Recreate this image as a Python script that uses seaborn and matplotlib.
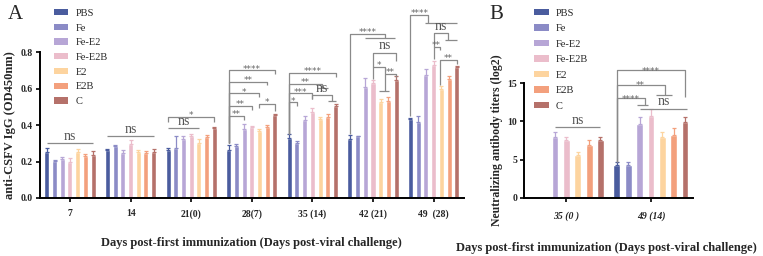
import matplotlib
matplotlib.use("Agg")
import matplotlib.pyplot as plt
from matplotlib.patches import Patch
import numpy as np
import pandas as pd
import seaborn as sns

# ---- data ----
groups = ["PBS", "Fe", "Fe-E2", "Fe-E2B", "E2", "E2B", "C"]
colors = ["#4A5C9E", "#8B8BC6", "#B7A6D6", "#EBBDCB", "#FDD49F", "#F3A07D", "#B5716A"]

days_a = ["7", "14", "21(0)", "28(7)", "35 (14)", "42 (21)", "49  (28)"]
# rows = groups, columns = days
od_mean = [
    [0.250, 0.265, 0.265, 0.263, 0.330, 0.323, 0.433],
    [0.202, 0.285, 0.272, 0.285, 0.303, 0.338, 0.418],
    [0.215, 0.245, 0.325, 0.378, 0.427, 0.606, 0.674],
    [0.200, 0.295, 0.340, 0.389, 0.471, 0.632, 0.729],
    [0.250, 0.250, 0.300, 0.367, 0.433, 0.524, 0.599],
    [0.230, 0.245, 0.335, 0.389, 0.442, 0.532, 0.650],
    [0.235, 0.252, 0.385, 0.455, 0.506, 0.647, 0.716],
]
od_err = [
    [0.025, 0.006, 0.010, 0.030, 0.020, 0.020, 0.008],
    [0.006, 0.006, 0.070, 0.012, 0.010, 0.004, 0.030],
    [0.012, 0.020, 0.015, 0.030, 0.020, 0.050, 0.035],
    [0.020, 0.025, 0.010, 0.008, 0.025, 0.015, 0.020],
    [0.020, 0.015, 0.025, 0.010, 0.012, 0.020, 0.015],
    [0.012, 0.015, 0.010, 0.012, 0.020, 0.020, 0.020],
    [0.020, 0.015, 0.004, 0.008, 0.008, 0.020, 0.010],
]

days_b = ["35 (0 )", "49 (14)"]
nab_mean = [
    [np.nan, 4.35],
    [np.nan, 4.35],
    [7.95, 9.65],
    [7.60, 10.65],
    [5.65, 7.95],
    [6.95, 8.25],
    [7.60, 9.95],
]
nab_err = [
    [np.nan, 0.3],
    [np.nan, 0.3],
    [0.6, 0.9],
    [0.35, 0.9],
    [0.4, 0.6],
    [0.6, 0.9],
    [0.4, 0.6],
]

# significance annotations: (day idx, hue start, hue end, y, label, left leg bottom, right leg bottom, sub span)
sig_a = [
    (0, 0, 6, 0.300, "ns", None, None, None),
    (1, 0, 6, 0.340, "ns", None, None, None),
    (2, 0, 4, 0.383, "ns", None, None, None),
    (2, 0, 6, 0.445, "*", 0.418, 0.418, None),
    (3, 0, 2, 0.449, "**", 0.30, 0.425, None),
    (3, 0, 3, 0.504, "**", 0.30, 0.485, None),
    (3, 0, 4, 0.574, "*", 0.30, 0.555, None),
    (3, 0, 5, 0.637, "**", 0.30, 0.617, None),
    (3, 0, 6, 0.700, "****", 0.30, 0.680, None),
    (3, 4, 6, 0.515, "*", 0.495, 0.475, None),
    (4, 0, 1, 0.525, "*", 0.35, 0.505, None),
    (4, 0, 3, 0.574, "***", 0.35, 0.545, None),
    (4, 3, 5.5, 0.565, "ns", 0.545, 0.533, (5, 6)),
    (4, 0, 4.2, 0.625, "**", 0.35, 0.605, (3.6, 5)),
    (4, 0, 6, 0.685, "****", 0.35, 0.665, None),
    (5, 0, 4.6, 0.899, "****", 0.35, 0.875, (2, 5.9)),
    (5, 3, 6, 0.796, "ns", 0.72, 0.752, None),
    (5, 3, 4.5, 0.720, "*", 0.655, 0.588, (3.8, 5.1)),
    (5, 4.5, 6, 0.680, "**", 0.68, 0.665, None),
    (6, 0, 2.3, 1.003, "****", 0.45, 0.957, (1.9, 6)),
    (6, 3, 4.9, 0.902, "ns", 0.829, 0.866, (4.5, 6)),
    (6, 3, 3.8, 0.829, "**", 0.76, 0.81, None),
    (6, 3.8, 6, 0.756, "**", 0.62, 0.735, None),
]
sig_b = [
    (0, 2, 6, 9.2, "ns", None, None, None),
    (1, 0, 6, 16.7, "****", 4.7, 13.2, None),
    (1, 0, 4.2, 14.8, "**", 4.7, 13.5, (3.45, 4.9)),
    (1, 0, 2.5, 13.0, "****", 4.7, 12.2, (1.8, 2.7)),
    (1, 2, 6.2, 11.6, "ns", None, None, None),
]


def long_form(means, days):
    rows = []
    for g, vals in zip(groups, means):
        for d, v in zip(days, vals):
            if not np.isnan(v):
                rows.append({"day": d, "group": g, "value": v})
    return pd.DataFrame(rows)


def bar_x(cat, h, width):
    n = len(groups)
    return cat + (h - (n - 1) / 2) * width / n


def draw_panel(ax, means, errs, days, width, gap):
    df = long_form(means, days)
    sns.barplot(data=df, x="day", y="value", hue="group", order=days, hue_order=groups,
                palette=colors, width=width, gap=gap, saturation=1, errorbar=None,
                legend=False, ax=ax)
    for h, (mrow, erow) in enumerate(zip(means, errs)):
        for c, (m, e) in enumerate(zip(mrow, erow)):
            if np.isnan(m):
                continue
            ax.errorbar(bar_x(c, h, width), m, yerr=[[0], [e]], color=colors[h],
                        capsize=1.6, elinewidth=0.9, capthick=0.9, clip_on=False)


def draw_sigs(ax, sigs, width, leg, ns_size, star_size):
    kw = dict(color="#8a8a8a", lw=0.9, clip_on=False, solid_capstyle="butt")
    for c, h1, h2, y, label, yl1, yl2, sub in sigs:
        x1, x2 = bar_x(c, h1, width), bar_x(c, h2, width)
        if yl1 is None:
            ax.plot([x1, x2], [y, y], **kw)
        else:
            ax.plot([x1, x1, x2, x2], [yl1, y, y, yl2], **kw)
        if sub is not None:
            ax.plot([bar_x(c, sub[0], width), bar_x(c, sub[1], width)], [yl2, yl2], **kw)
        xm = (x1 + x2) / 2
        if label == "ns":
            ax.text(xm, y + leg * 0.1, label, ha="center", va="bottom", fontsize=ns_size,
                    color="#555555", clip_on=False)
        else:
            ax.text(xm, y - leg * 0.9, label, ha="center", va="bottom", fontsize=star_size,
                    color="#666666", family="DejaVu Sans", clip_on=False)


sns.set_theme(style="ticks")
plt.rcParams["font.family"] = ["Liberation Serif", "DejaVu Serif"]

fig = plt.figure(figsize=(7.63, 2.56), dpi=100)
ax_a = fig.add_axes([0.052, 0.2266, 0.556, 0.570])
ax_b = fig.add_axes([0.687, 0.2266, 0.2215, 0.449])

wa, wb = 0.89, 0.94
draw_panel(ax_a, od_mean, od_err, days_a, wa, 0.35)
draw_panel(ax_b, nab_mean, nab_err, days_b, wb, 0.4)
draw_sigs(ax_a, sig_a, wa, 0.02, 10, 6.5)
draw_sigs(ax_b, sig_b, wb, 0.8, 10, 6.5)

ax_a.set_xlim(-0.5, 6.5)
ax_a.set_ylim(0, 0.8)
ax_a.set_yticks([0, 0.2, 0.4, 0.6, 0.8])
ax_a.set_yticklabels(["0.0", "0.2", "0.4", "0.6", "0.8"])
ax_b.set_xlim(-0.5, 1.5)
ax_b.set_ylim(0, 15)
ax_b.set_yticks([0, 5, 10, 15])

for ax in (ax_a, ax_b):
    sns.despine(ax=ax)
    for s in ("left", "bottom"):
        ax.spines[s].set_linewidth(1.4)
        ax.spines[s].set_color("black")
    ax.tick_params(axis="both", length=3, width=1.2, labelsize=7, pad=2, color="black")
    for t in ax.get_yticklabels():
        t.set_fontweight("bold")
    ax.set_xlabel("")

for t in ax_a.get_xticklabels():
    t.set_fontweight("bold")
ax_a.tick_params(axis="x", pad=5)
for t in ax_b.get_xticklabels():
    t.set_fontweight("bold")
    t.set_fontstyle("italic")
ax_b.tick_params(axis="x", pad=7)

ax_a.set_ylabel("anti-CSFV IgG (OD450nm)", fontsize=9, fontweight="bold", labelpad=3)
ax_b.set_ylabel("Neutralizing antibody titers (log2)", fontsize=8.5, fontweight="bold", labelpad=3)

xtitle = "Days post-first immunization (Days post-viral challenge)"
fig.text(0.33, 0.05, xtitle, ha="center", va="center", fontsize=9, fontweight="bold")
fig.text(0.795, 0.03, xtitle, ha="center", va="center", fontsize=9, fontweight="bold")

fig.text(0.010, 0.945, "A", fontsize=15, va="center")
fig.text(0.642, 0.945, "B", fontsize=15, va="center")

handles = [Patch(facecolor=c, edgecolor="none") for c in colors]
fig.legend(handles, groups, loc="upper left", bbox_to_anchor=(0.062, 0.99), frameon=False,
           fontsize=7.5, handlelength=1.4, handleheight=0.55, labelspacing=0.55,
           handletextpad=0.7, borderaxespad=0.2)
fig.legend(handles, groups, loc="upper left", bbox_to_anchor=(0.692, 0.99), frameon=False,
           fontsize=7.5, handlelength=1.4, handleheight=0.55, labelspacing=0.62,
           handletextpad=0.7, borderaxespad=0.2)

fig.savefig("out.png", dpi=100)
